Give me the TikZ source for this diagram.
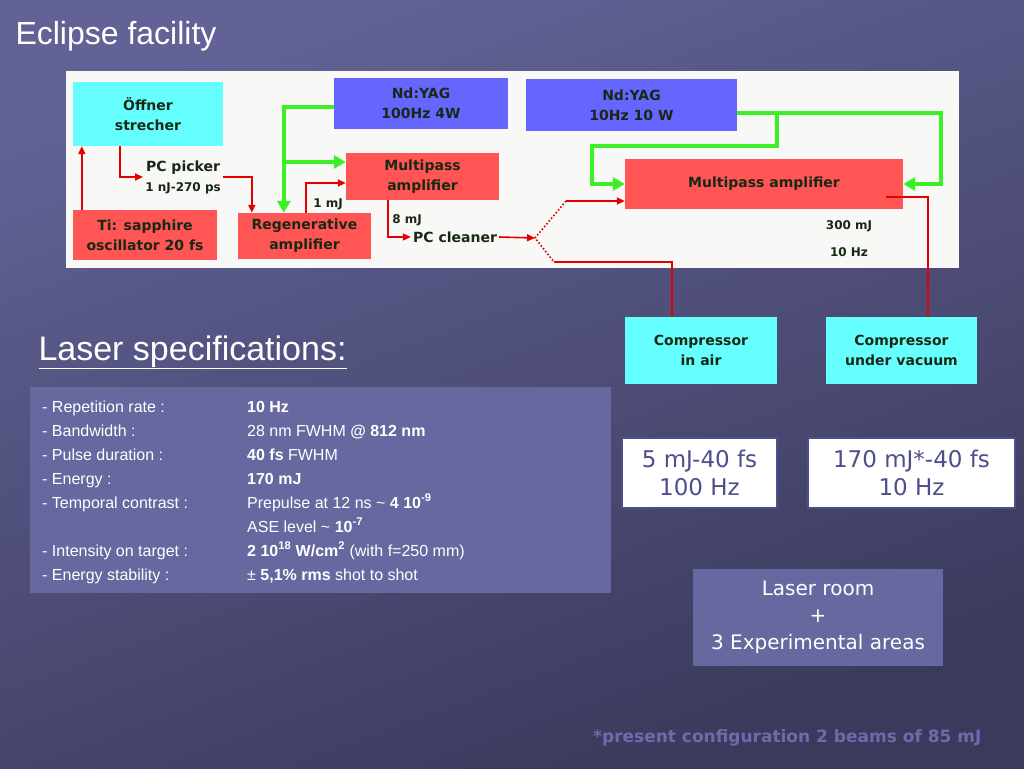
\documentclass[tikz,border=0pt]{standalone}
\usepackage{fontspec}
\setmainfont{Liberation Sans}
\newfontfamily\comic{DejaVu Sans}
\usepackage{tikz}
\usetikzlibrary{arrows.meta}
\usetikzlibrary{positioning}
\definecolor{bgtop}{RGB}{98,98,150}
\definecolor{bgbot}{RGB}{58,58,92}
\definecolor{panel}{RGB}{248,248,246}
\definecolor{cyanbox}{RGB}{102,255,255}
\definecolor{redbox}{RGB}{255,85,85}
\definecolor{bluebox}{RGB}{102,102,255}
\definecolor{beam}{RGB}{228,0,0}
\definecolor{pump}{RGB}{60,240,40}
\definecolor{ink}{RGB}{25,40,20}
\definecolor{specfill}{RGB}{104,104,160}
\definecolor{resink}{RGB}{78,78,140}
\definecolor{note}{RGB}{108,108,172}
\tikzset{unit/.style = {inner sep = 2, align = center, text = ink, font = \comic\bfseries\fontsize{14}{20}\selectfont},
  cyanunit/.style = {unit, fill = cyanbox},
  redunit/.style = {unit, fill = redbox},
  blueunit/.style = {unit, fill = bluebox},
  lbl/.style = {inner sep = 1, text = ink, font = \comic\bfseries\fontsize{12}{18}\selectfont},
  beamline/.style = {beam, line width = 1.6, -{Triangle[length = 8pt, width = 7pt]}},
  pumpline/.style = {pump, line width = 4.5, -{Triangle[length = 12pt, width = 13pt]}},
  result/.style = {draw = resink, line width = 2.5, fill = white, text = resink, inner sep = 0,
    align = center, font = \comic\fontsize{23}{28}\selectfont}}

\begin{document}
\begin{tikzpicture}[x=1pt, y=-1pt]
          \useasboundingbox (0, 0) rectangle (1024, 768);
          \shade [top color = bgtop, bottom color = bgbot, shading angle = 20] (0, 0) rectangle (1024, 768);

          \node [anchor = base west, text = white, font = \fontsize{32}{36}\selectfont] (title) at (12, 45) {Eclipse facility};

          % chain
          \fill [panel] (66, 71) rectangle (959, 268);

          \node [cyanunit, minimum width = 150, minimum height = 64] (oeffner) at (148, 114) {Öffner\\strecher};
          \node [redunit, minimum width = 144, minimum height = 50] (tisa) at (145, 235) {Ti: sapphire\\oscillator 20 fs};
          \node [redunit, minimum width = 133, minimum height = 46] (regen) at (304.5, 236) {Regenerative\\amplifier};
          \node [redunit, minimum width = 153, minimum height = 47] (mpa) at (422.5, 176.5) {Multipass\\amplifier};
          \node [blueunit, minimum width = 174, minimum height = 51] (yagA) at (421, 103.5) {Nd:YAG\\100Hz 4W};
          \node [blueunit, minimum width = 211, minimum height = 52] (yagB) at (631.5, 105) {Nd:YAG\\10Hz 10 W};
          \node [redunit, minimum width = 278, minimum height = 50] (mpb) at (764, 184) {Multipass amplifier};
          \node [cyanunit, minimum width = 152, minimum height = 67] (compA) at (701, 350.5) {Compressor\\in air};
          \node [cyanunit, minimum width = 151, minimum height = 67] (compV) at (901.5, 350.5) {Compressor\\under vacuum};

          \node [unit, inner sep = 2] (picker) at (183, 177) {PC picker\\\fontsize{12}{18}\selectfont 1 nJ-270 ps};
          \node [unit] (cleaner) at (455, 237) {PC cleaner};
          \node [lbl] (oneMJ) at (328, 204) {1 mJ};
          \node [lbl] (eightMJ) at (407, 220) {8 mJ};
          \node [lbl] (outE) at (849, 226) {300 mJ};
          \node [lbl] (outF) at (849, 252) {10 Hz};

          \coordinate (split) at (535, 238);
          \coordinate (splitUp) at (566, 201);
          \coordinate (splitDn) at (554, 262);
          \coordinate (pumpA) at (284, 162);
          \coordinate (pumpB) at (941, 113);
          \coordinate (pumpC) at (777, 113);

          % red beam
          \draw [beamline] ([xshift = 9pt] tisa.north west) -- ([xshift = 9pt] tisa.north west |- oeffner.south);
          \draw [beamline] ([xshift = 47pt] oeffner.south west) |- (picker.west);
          \draw [beamline] (picker.east) -| ([xshift = 14pt] regen.north west);
          \draw [beamline] ([xshift = 68pt] regen.north west) |- ([yshift = -6.5pt] mpa.west);
          \draw [beamline] ([xshift = 42pt] mpa.south west) |- (cleaner.west);
          \draw [beamline] (cleaner.east) -- (split);
          \draw [beam, line width = 1.6, dotted] (splitUp) -- (split) -- (splitDn);
          \draw [beamline] (splitUp) -- (splitUp -| mpb.west);
          \draw [beam, line width = 1.6] (splitDn) -| ([xshift = 47pt] compA.north west);
          \draw [beam, line width = 1.6] ([xshift = -17pt, yshift = -13pt] mpb.east) -| ([xshift = 102pt] compV.north west);

          % green pump
          \draw [pumpline] ([yshift = -3.5pt] yagA.west) -| ([xshift = 46pt] regen.north west);
          \draw [pumpline] (pumpA) -- (pumpA -| mpa.west);
          \draw [pumpline] (yagB.east |- pumpB) -- (pumpB) |- (mpb.east);
          \draw [pumpline] (pumpC) -- ++(0, 33) -| ([xshift = -33pt] mpb.west) -- (mpb.west);

          % specifications
          \node [anchor = base west, text = white, font = \fontsize{34}{38}\selectfont] (specHead) at (35, 360) {\underline{Laser specifications:}};
          \fill [specfill] (30, 387) rectangle (611, 593);
          \node [anchor = north west, inner sep = 0, text = white, font = \fontsize{16}{24}\selectfont] (specs) at (42, 395) {%
            \begin{tabular}{@{}p{205pt}@{}l@{}}
              - Repetition rate : & \textbf{10 Hz}\\
              - Bandwidth : & 28 nm FWHM \textbf{@ 812 nm}\\
              - Pulse duration : & \textbf{40 fs} FWHM\\
              - Energy : & \textbf{170 mJ}\\
              - Temporal contrast : & Prepulse at 12 ns \textasciitilde{} \textbf{4 10\textsuperscript{-9}}\\
              & ASE level \textasciitilde{} \textbf{10\textsuperscript{-7}}\\
              - Intensity on target : & \textbf{2 10\textsuperscript{18} W/cm\textsuperscript{2}} (with f=250 mm)\\
              - Energy stability : & ± \textbf{5,1\% rms} shot to shot
            \end{tabular}};

          % results
          \node [result, minimum width = 155, minimum height = 70] (resA) at (699.5, 473) {5 mJ-40 fs\\100 Hz};
          \node [result, minimum width = 207, minimum height = 70] (resB) at (911.5, 473) {170 mJ*-40 fs\\10 Hz};
          \node [fill = specfill, minimum width = 250, minimum height = 97, align = center, text = white,
            font = \comic\fontsize{20}{27}\selectfont] (room) at (818, 617.5) {Laser room\\+\\3 Experimental areas};
          \node [anchor = base east, text = note, font = \comic\bfseries\fontsize{17}{20}\selectfont] (footnote) at (985, 742)
            {*present configuration 2 beams of 85 mJ};
        \end{tikzpicture}
\end{document}
